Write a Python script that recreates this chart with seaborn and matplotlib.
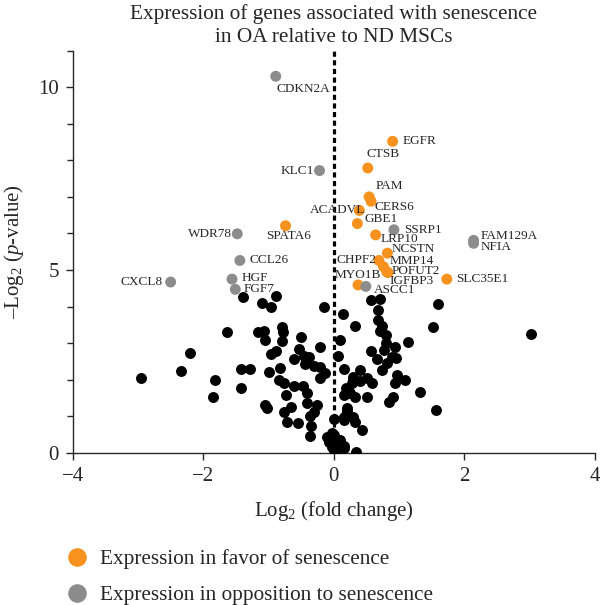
import seaborn as sns
import matplotlib.pyplot as plt
import pandas as pd
from matplotlib.ticker import MultipleLocator

# labelled genes
genes = ["CDKN2A", "KLC1", "SPATA6", "WDR78", "CCL26", "HGF", "FGF7", "CXCL8",
         "EGFR", "CTSB", "PAM", "CERS6", "ACADVL", "GBE1", "SSRP1", "LRP10",
         "NCSTN", "CHPF2", "MMP14", "POFUT2", "IGFBP3", "SLC35E1", "FAM129A",
         "NFIA", "MYO1B", "ASCC1"]
gene_fc = [-0.89, -0.22, -0.74, -1.48, -1.44, -1.56, -1.51, -2.50,
           0.90, 0.52, 0.54, 0.57, 0.39, 0.36, 0.92, 0.64,
           0.82, 0.69, 0.76, 0.81, 0.83, 1.73, 2.14,
           2.14, 0.37, 0.49]
gene_p = [10.30, 7.72, 6.21, 5.99, 5.26, 4.75, 4.47, 4.67,
          8.52, 7.79, 7.00, 6.88, 6.63, 6.27, 6.10, 5.96,
          5.46, 5.26, 5.09, 4.95, 4.93, 4.75, 5.81,
          5.73, 4.59, 4.55]
FAV = "Expression in favor of senescence"
OPP = "Expression in opposition to senescence"
gene_group = [OPP, OPP, FAV, OPP, OPP, OPP, OPP, OPP,
              FAV, FAV, FAV, FAV, FAV, FAV, OPP, FAV,
              FAV, FAV, FAV, FAV, FAV, FAV, OPP,
              OPP, FAV, OPP]

# remaining genes (black)
bg_fc = [-1.39, -1.10, -0.97, -0.88, -0.15, 0.14, 0.33, -1.63, -2.21, -2.34,
         -2.96, -1.82, -1.85, -1.42, -1.28, -1.42, -1.16, -1.07, -1.06, -0.80,
         -0.78, -0.80, -0.50, -0.89, -0.96, -1.00, -0.82, -0.61, -0.53, -0.46,
         -0.38, -0.44, -0.31, -0.21, -0.22, -0.13, -0.21, 0.09, 0.07, 0.15,
         -0.84, -0.77, -0.74, -0.61, -0.48, -0.41, -0.41, -0.26, -0.31, -0.66,
         -0.76, -1.03, -1.06, -0.72, -0.55, -0.37, -0.35, -0.37, 0.00, 0.15,
         0.20, 0.21, 0.16, 0.30, 0.33, 0.30, 0.00, -0.08, 0.09, -0.03,
         0.16, 0.34, 0.04, -0.10, 0.57, 0.71, 0.67, 0.68, 0.74, 0.71,
         0.80, 1.60, 1.52, 3.02, 1.14, 0.80, 0.94, 0.77, 0.57, 0.66,
         0.89, 0.95, 0.81, 0.74, 0.40, 0.30, 0.51, 0.58, 0.40, 0.96,
         1.09, 0.94, 0.28, 0.18, 0.25, 0.51, 0.91, 0.84, 1.32, 1.57,
         0.20, 0.15, 0.33, 0.43, -0.03, 0.10, 0.00, 0.15]
bg_p = [4.26, 4.09, 4.00, 4.29, 3.98, 3.79, 3.47, 3.29, 2.74, 2.24,
        2.04, 1.99, 1.52, 2.28, 2.28, 1.76, 3.30, 3.33, 3.09, 3.45,
        3.29, 3.06, 3.18, 2.79, 2.70, 2.22, 2.31, 2.56, 2.83, 2.65,
        2.63, 2.42, 2.37, 2.88, 2.34, 2.17, 2.04, 3.09, 2.65, 2.28,
        1.99, 1.92, 1.58, 1.83, 1.83, 1.64, 1.35, 1.31, 1.12, 1.24,
        1.12, 1.21, 1.31, 0.83, 0.80, 1.00, 0.74, 0.46, 0.91, 0.89,
        1.15, 1.74, 1.58, 1.99, 1.53, 0.99, 0.48, 0.30, 0.27, 0.16,
        0.18, 0.03, 0.07, 0.44, 4.18, 4.20, 3.91, 3.63, 3.47, 3.32,
        3.22, 4.07, 3.45, 3.24, 3.04, 3.00, 2.90, 2.81, 2.77, 2.56,
        2.63, 2.60, 2.45, 2.26, 2.26, 2.08, 2.04, 1.92, 1.95, 2.13,
        1.99, 1.90, 1.92, 1.76, 1.63, 1.53, 1.53, 1.40, 1.65, 1.17,
        1.21, 0.99, 0.85, 0.62, 0.53, 0.35, 0.07, 0.12]

# label placement (offset in pixels, horizontal alignment)
label_pos = {
    "CDKN2A": (1, -13, "left"), "KLC1": (-6, 0, "right"), "SPATA6": (3, -10, "center"),
    "WDR78": (-5, 0, "right"), "CCL26": (10, 0, "left"), "HGF": (10, 1, "left"),
    "FGF7": (8, 0, "left"), "CXCL8": (-8, 0, "right"), "EGFR": (10, 0, "left"),
    "CTSB": (-1, 14, "left"), "PAM": (6, 11, "left"), "CERS6": (3, -6, "left"),
    "ACADVL": (6, 0, "right"), "GBE1": (7, 5, "left"), "SSRP1": (10, 0, "left"),
    "LRP10": (5, -4, "left"), "NCSTN": (4, 4, "left"), "CHPF2": (-3, 0, "right"),
    "MMP14": (6, 6, "left"), "POFUT2": (5, 1, "left"), "IGFBP3": (1, -8, "left"),
    "SLC35E1": (9, 0, "left"), "FAM129A": (7, 4, "left"), "NFIA": (7, -4, "left"),
    "MYO1B": (0, 10, "center"), "ASCC1": (8, -4, "left"),
}

sns.set_style("ticks")
plt.rcParams["font.family"] = ["Liberation Serif", "DejaVu Serif"]
plt.rcParams["mathtext.fontset"] = "custom"
plt.rcParams["mathtext.rm"] = "Liberation Serif"
plt.rcParams["mathtext.it"] = "Liberation Serif:italic"

dfGenes = pd.DataFrame({"fc": gene_fc, "p": gene_p, "group": gene_group, "gene": genes})
dfBg = pd.DataFrame({"fc": bg_fc, "p": bg_p})

fig = plt.figure(figsize=(6, 6.05), dpi=100)
ax = fig.add_axes([0.1212, 0.2517, 0.8705, 0.6645])

ax.axvline(0, color="black", ls=(0, (1.6, 1.1)), lw=2.3, zorder=1)
sns.scatterplot(data=dfBg, x="fc", y="p", color="black", s=62, linewidth=0,
                legend=False, ax=ax, zorder=3)
sns.scatterplot(data=dfGenes, x="fc", y="p", hue="group",
                palette={FAV: "#F7921E", OPP: "#8C8C8C"}, hue_order=[FAV, OPP],
                s=62, linewidth=0, ax=ax, zorder=3)

for i, row in dfGenes.iterrows():
    dx, dy, ha = label_pos[row["gene"]]
    ax.annotate(row["gene"], (row["fc"], row["p"]), xytext=(dx, dy),
                textcoords="offset pixels", ha=ha, va="center", fontsize=9.5, zorder=4)

ax.set_xlim(-4, 4)
ax.set_ylim(0, 11)
ax.set_xticks([-4, -2, 0, 2, 4])
ax.set_yticks([0, 5, 10])
ax.yaxis.set_minor_locator(MultipleLocator(1))
ax.tick_params(axis="both", which="major", labelsize=15, length=5, width=1, pad=5)
ax.tick_params(axis="y", which="minor", length=4.5, width=1)
sns.despine(ax=ax)
for sp in ["left", "bottom"]:
    ax.spines[sp].set_linewidth(1)

ax.set_xlabel("Log$_2$ (fold change)", fontsize=15, labelpad=10)
ax.set_ylabel("\u2013Log$_2$ ($p$-value)", fontsize=15, labelpad=9)
ax.set_title("Expression of genes associated with senescence\nin OA relative to ND MSCs",
             fontsize=15.3, pad=6, linespacing=1.3)

handles, labels = ax.get_legend_handles_labels()
ax.legend(handles, labels, loc="center left", bbox_to_anchor=(0.1105, 0.046),
          bbox_transform=fig.transFigure, frameon=False, fontsize=15.3,
          markerscale=1.7, handlelength=1, handletextpad=0.6, borderpad=0,
          labelspacing=0.75, borderaxespad=0)

plt.savefig("out.png", dpi=100)
